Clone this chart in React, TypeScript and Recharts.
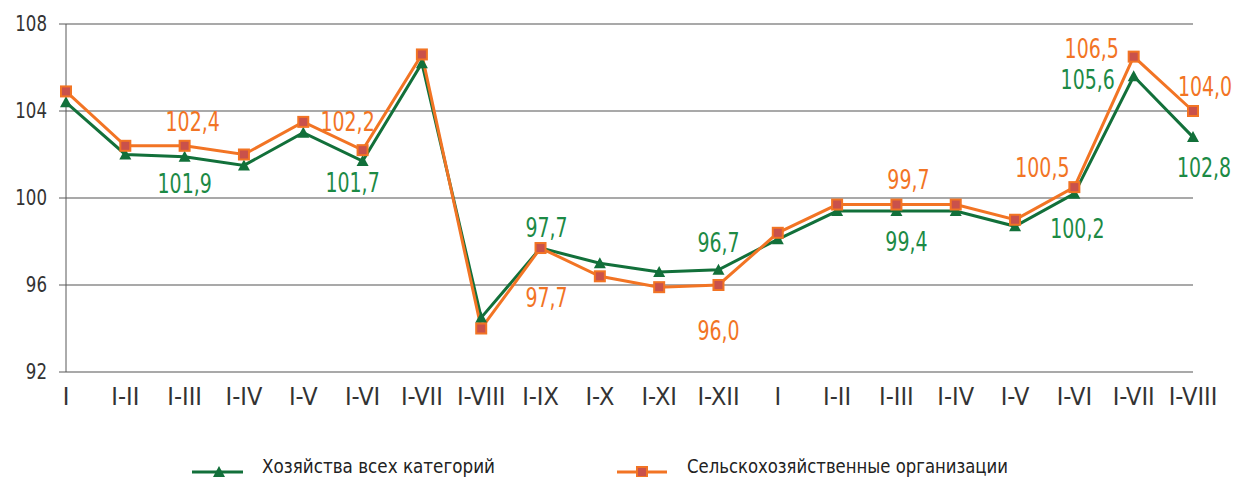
import { LineChart, Line, XAxis, YAxis, CartesianGrid, LabelList } from "recharts";

const categories = [
    "I", "I-II", "I-III", "I-IV", "I-V", "I-VI", "I-VII", "I-VIII", "I-IX", "I-X",
    "I-XI", "I-XII", "I", "I-II", "I-III", "I-IV", "I-V", "I-VI", "I-VII", "I-VIII",
];

const allFarms = [
    104.4, 102.0, 101.9, 101.5, 103.0, 101.7, 106.2, 94.5, 97.7, 97.0,
    96.6, 96.7, 98.1, 99.4, 99.4, 99.4, 98.7, 100.2, 105.6, 102.8,
];

const agriOrgs = [
    104.9, 102.4, 102.4, 102.0, 103.5, 102.2, 106.6, 94.0, 97.7, 96.4,
    95.9, 96.0, 98.4, 99.7, 99.7, 99.7, 99.0, 100.5, 106.5, 104.0,
];

const yTicks = [92, 96, 100, 104, 108];

const seriesNames = ["Хозяйства всех категорий", "Сельскохозяйственные организации"];

// which points carry a value label, and where it sits relative to the point
const greenLabelOffsets: Record<number, [number, number]> = {
    2: [0, 27], 5: [-10, 22], 8: [6, -20], 11: [0, -27],
    14: [10, 31], 17: [3, 35], 18: [-46, 4], 19: [11, 31],
};
const orangeLabelOffsets: Record<number, [number, number]> = {
    2: [8, -24], 5: [-15, -28], 8: [6, 50], 11: [0, 46],
    14: [12, -24], 17: [-32, -19], 18: [-42, -8], 19: [12, -24],
};

const GREEN = "#12703a";
const GREEN_TEXT = "#1c8a45";
const ORANGE = "#f27424";
const ORANGE_FILL = "#c9514b";
const FONT = "'DejaVu Sans Condensed', 'DejaVu Sans', sans-serif";

const data = categories.map((c, i) => ({ cat: c, all: allFarms[i], org: agriOrgs[i] }));

const fmt = (v: number) => v.toFixed(1).replace(".", ",");

function Triangle(props: any) {
    const { cx, cy } = props;
    if (cx == null || cy == null) return null;
    return <path d={`M${cx},${cy - 6} L${cx + 6},${cy + 5} L${cx - 6},${cy + 5} Z`} fill={GREEN} />;
}

function Square(props: any) {
    const { cx, cy } = props;
    if (cx == null || cy == null) return null;
    return <rect x={cx - 5} y={cy - 5} width={10} height={10} fill={ORANGE_FILL} stroke={ORANGE} strokeWidth={2} />;
}

// narrow font look: squeeze the glyphs horizontally
function makeLabel(offsets: Record<number, [number, number]>, color: string) {
    return (props: any) => {
        const { x, y, index, value } = props;
        const off = offsets[index];
        if (!off) return null;
        return (
            <text
                transform={`translate(${x + off[0]},${y + off[1]}) scale(0.78,1)`}
                textAnchor="middle"
                dominantBaseline="central"
                fill={color}
                fontSize={27}
                fontFamily={FONT}
            >
                {fmt(value)}
            </text>
        );
    };
}

function YTick(props: any) {
    const { x, y, payload } = props;
    return (
        <text
            transform={`translate(${x},${y}) scale(0.88,1)`}
            textAnchor="end"
            dominantBaseline="central"
            fill="#333"
            fontSize={21}
            fontFamily={FONT}
        >
            {payload.value}
        </text>
    );
}

export default function App() {
    return (
        <div style={{ position: "absolute", left: 0, top: 0, width: 1234, height: 477, background: "#fff", overflow: "hidden" }}>
            <LineChart width={1234} height={477} data={data} margin={{ top: 24, right: 41, left: 6, bottom: 65 }}>
                <CartesianGrid vertical={false} stroke="#a9a9a9" strokeWidth={2} />
                <XAxis
                    dataKey="cat"
                    axisLine={false}
                    tickLine={false}
                    interval={0}
                    height={40}
                    tickMargin={9}
                    tick={{ fill: "#333", fontSize: 25, fontFamily: FONT }}
                />
                <YAxis
                    domain={[92, 108]}
                    ticks={yTicks}
                    width={60}
                    axisLine={{ stroke: "#595959", strokeWidth: 1 }}
                    tickLine={{ stroke: "#595959" }}
                    tickSize={7}
                    tickMargin={12}
                    tick={<YTick />}
                />
                <Line
                    dataKey="all"
                    name={seriesNames[0]}
                    stroke={GREEN}
                    strokeWidth={3}
                    dot={<Triangle />}
                    isAnimationActive={false}
                >
                    <LabelList dataKey="all" content={makeLabel(greenLabelOffsets, GREEN_TEXT)} />
                </Line>
                <Line
                    dataKey="org"
                    name={seriesNames[1]}
                    stroke={ORANGE}
                    strokeWidth={3}
                    dot={<Square />}
                    isAnimationActive={false}
                >
                    <LabelList dataKey="org" content={makeLabel(orangeLabelOffsets, ORANGE)} />
                </Line>
            </LineChart>
            <svg width={1234} height={30} style={{ position: "absolute", left: 0, top: 452 }}>
                <line x1={192} y1={20} x2={243} y2={20} stroke={GREEN} strokeWidth={3} />
                <path d="M219,14 L225,25 L213,25 Z" fill={GREEN} />
                <text x={262} y={14} dominantBaseline="central" fontSize={20} fontFamily={FONT} fill="#222"
                    textLength={233} lengthAdjust="spacingAndGlyphs">
                    {seriesNames[0]}
                </text>
                <line x1={617} y1={20} x2={667} y2={20} stroke={ORANGE} strokeWidth={3} />
                <rect x={637} y={15} width={10} height={10} fill={ORANGE_FILL} stroke={ORANGE} strokeWidth={2} />
                <text x={687} y={14} dominantBaseline="central" fontSize={20} fontFamily={FONT} fill="#222"
                    textLength={321} lengthAdjust="spacingAndGlyphs">
                    {seriesNames[1]}
                </text>
            </svg>
        </div>
    );
}
